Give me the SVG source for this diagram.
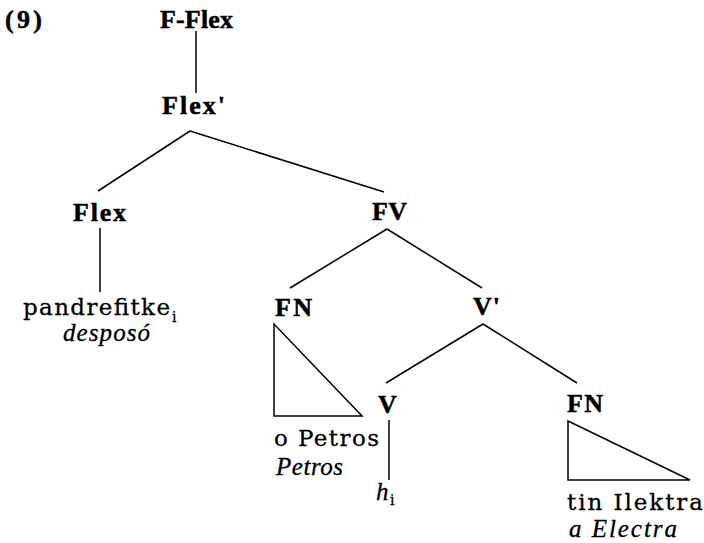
<svg xmlns="http://www.w3.org/2000/svg" width="704" height="543" viewBox="0 0 704 543">
<style>
.b{font-family:"Liberation Serif","DejaVu Serif",serif;font-weight:bold;font-size:26px;fill:#000;stroke:#000;stroke-width:0.5}
.r{font-family:"DejaVu Serif","Liberation Serif",serif;font-size:23px;fill:#000;stroke:#000;stroke-width:0.3}
.i{font-family:"Liberation Serif","DejaVu Serif",serif;font-style:italic;font-size:25px;fill:#000;stroke:#000;stroke-width:0.3}
.s{font-size:14px}
.ln{stroke:#000;stroke-width:1.5;fill:none}
</style>
<rect width="704" height="543" fill="#fff"/>
<text class="b" x="5" y="28" textLength="37">(9)</text>
<g id="connectors">
<line class="ln" x1="196" y1="31" x2="196" y2="93"/>
<line class="ln" x1="190" y1="131" x2="98" y2="191"/>
<line class="ln" x1="190" y1="131" x2="384" y2="192"/>
<line class="ln" x1="100" y1="228" x2="100" y2="292"/>
<line class="ln" x1="387" y1="229" x2="290" y2="288"/>
<line class="ln" x1="387" y1="229" x2="482" y2="288"/>
<line class="ln" x1="483" y1="324" x2="386" y2="383"/>
<line class="ln" x1="483" y1="324" x2="577" y2="383"/>
<line class="ln" x1="389" y1="420" x2="389" y2="480"/>
</g>
<g id="n-fflex"><text class="b" x="160" y="28" textLength="73">F-Flex</text></g>
<g id="n-flexbar"><text class="b" x="162" y="114" textLength="63">Flex'</text></g>
<g id="n-flex"><text class="b" x="73" y="221" textLength="53">Flex</text></g>
<g id="n-pandrefitke">
<text class="r" x="23" y="315" textLength="147">pandrefitke</text>
<text class="r s" x="172" y="322">i</text>
<text class="i" x="63" y="341" textLength="87">desposó</text>
</g>
<g id="n-fv"><text class="b" x="372" y="220" textLength="35">FV</text></g>
<g id="n-fn1">
<text class="b" x="275" y="316" textLength="37">FN</text>
<polygon class="ln" points="274,324 274,416 362,416"/>
</g>
<g id="n-petros">
<text class="r" x="274" y="446" textLength="105">o Petros</text>
<text class="i" x="276" y="475" textLength="67">Petros</text>
</g>
<g id="n-vbar"><text class="b" x="473" y="315" textLength="27">V'</text></g>
<g id="n-v"><text class="b" x="378" y="413" textLength="17">V</text></g>
<g id="n-h">
<text class="i" x="376" y="500">h</text>
<text class="r s" x="390" y="505">i</text>
</g>
<g id="n-fn2">
<text class="b" x="567" y="412" textLength="36">FN</text>
<polygon class="ln" points="568,421 568,480 690,480"/>
</g>
<g id="n-ilektra">
<text class="r" x="567" y="510" textLength="136">tin Ilektra</text>
<text class="i" x="569" y="537" textLength="108">a Electra</text>
</g>
</svg>
